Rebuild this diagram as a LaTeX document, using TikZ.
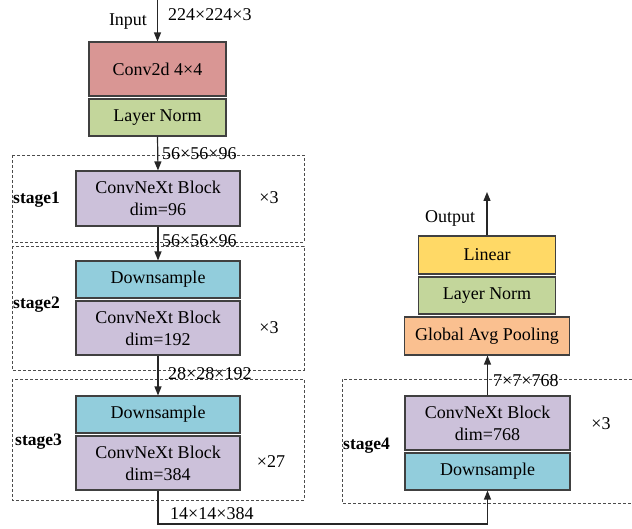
\documentclass[tikz,border=0pt]{standalone}
\usepackage{fontspec}
\setmainfont{Liberation Serif}
\usetikzlibrary{arrows.meta}
\definecolor{convred}{HTML}{D99694}
\definecolor{normgreen}{HTML}{C3D69B}
\definecolor{blockpurple}{HTML}{CCC1DA}
\definecolor{downcyan}{HTML}{92CDDC}
\definecolor{poolorange}{HTML}{FAC090}
\definecolor{linyellow}{HTML}{FFD966}
\definecolor{edgegray}{HTML}{404040}
\tikzset{
  layer/.style={draw=edgegray, line width=1.1pt, inner sep=0pt, align=center,
    font=\fontsize{18}{22}\selectfont},
  stagebox/.style={draw=black!70, line width=0.7pt, dash pattern=on 3pt off 2pt},
  flow/.style={draw=black!85, line width=1.2pt, -{Triangle[length=9pt,width=7pt]}},
  dimlabel/.style={font=\fontsize{18}{20}\selectfont, inner sep=0pt, anchor=west},
  plain/.style={font=\fontsize{18}{20}\selectfont, inner sep=0pt},
  stagename/.style={font=\fontsize{17.5}{20}\selectfont\bfseries, inner sep=0pt, anchor=west},
}
\begin{document}
\begin{tikzpicture}[x=1pt, y=-1pt]
\useasboundingbox (0,0) rectangle (632,529);

% stage frames
\draw[stagebox] (12,155) rectangle (304,242);
\draw[stagebox] (12,246) rectangle (304,370);
\draw[stagebox] (12,379) rectangle (304,500);
\draw[stagebox] (632,379) -- (342,379) -- (342,503) -- (632,503);

% stem
\node[layer, fill=convred, minimum width=137pt, minimum height=54pt] (conv) at (157.5,69) {Conv2d 4×4};
\node[layer, fill=normgreen, minimum width=137pt, minimum height=37pt] (ln1) at (157.5,117.5) {Layer Norm};

% stage 1
\node[layer, fill=blockpurple, minimum width=164pt, minimum height=55pt] (b1) at (158,198.5) {ConvNeXt Block\\dim=96};

% stage 2
\node[layer, fill=downcyan, minimum width=164pt, minimum height=37pt] (ds2) at (158,279.5) {Downsample};
\node[layer, fill=blockpurple, minimum width=164pt, minimum height=54pt] (b2) at (158,328) {ConvNeXt Block\\dim=192};

% stage 3
\node[layer, fill=downcyan, minimum width=164pt, minimum height=37pt] (ds3) at (158,414.5) {Downsample};
\node[layer, fill=blockpurple, minimum width=164pt, minimum height=54pt] (b3) at (158,463) {ConvNeXt Block\\dim=384};

% stage 4
\node[layer, fill=blockpurple, minimum width=165pt, minimum height=54pt] (b4) at (487.5,423) {ConvNeXt Block\\dim=768};
\node[layer, fill=downcyan, minimum width=165pt, minimum height=37pt] (ds4) at (487.5,471.5) {Downsample};

% head
\node[layer, fill=poolorange, minimum width=165pt, minimum height=38pt] (gap) at (487,336) {Global Avg Pooling};
\node[layer, fill=normgreen, minimum width=137pt, minimum height=37pt] (ln2) at (487,295.5) {Layer Norm};
\node[layer, fill=linyellow, minimum width=137pt, minimum height=38pt] (lin) at (487,255) {Linear};

% connectors
\coordinate (inp) at (157.5,0);
\coordinate (outp) at (487,192);
\coordinate (turn) at (158,524);
\draw[flow] (inp) -- (conv.north);
\draw[flow] (ln1.south) -- (b1.north);
\draw[flow] (b1.south) -- (ds2.north);
\draw[flow] (b2.south) -- (ds3.north);
\draw[flow] (b3.south) -- (turn) -| (ds4.south);
\draw[flow] (b4.north) -- (b4.north |- gap.south);
\draw[flow] (lin.north) -- (outp);

% labels
\node[plain] (inlbl) at (128,22) {Input};
\node[dimlabel] (d0) at (168,15) {224×224×3};
\node[dimlabel] (d1) at (162,154) {56×56×96};
\node[dimlabel] (d2) at (162,241) {56×56×96};
\node[dimlabel] (d3) at (168,374) {28×28×192};
\node[dimlabel] (d4) at (170,514) {14×14×384};
\node[dimlabel] (d5) at (493,381) {7×7×768};
\node[plain] (outlbl) at (450,218) {Output};

\node[stagename] (s1) at (13,200) {stage1};
\node[stagename] (s2) at (13,305) {stage2};
\node[stagename] (s3) at (15,442) {stage3};
\node[stagename] (s4) at (343,446) {stage4};

\node[plain] (r1) at (269,198) {×3};
\node[plain] (r2) at (269,328) {×3};
\node[plain] (r3) at (271,462) {×27};
\node[plain] (r4) at (601,424) {×3};
\end{tikzpicture}
\end{document}
